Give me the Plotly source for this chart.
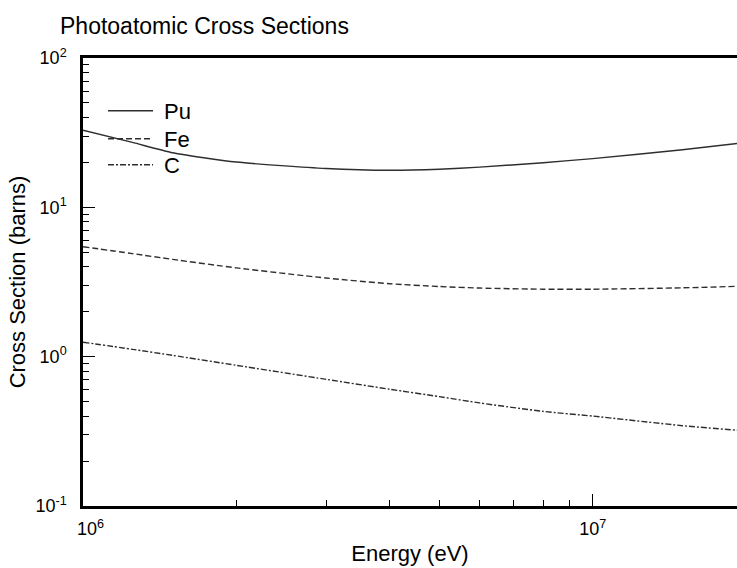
import plotly.graph_objects as go

energy = [1.0e6, 1.25e6, 1.5e6, 2.0e6, 3.0e6, 4.0e6, 5.0e6, 6.0e6, 8.0e6, 1.0e7, 1.5e7, 2.0e7]
pu = [32.8, 27.2, 23.2, 20.1, 18.2, 17.7, 18.0, 18.6, 19.9, 21.2, 24.3, 27.2]
fe = [5.45, 4.90, 4.48, 3.93, 3.36, 3.08, 2.95, 2.88, 2.83, 2.83, 2.89, 2.97]
c = [1.25, 1.12, 1.02, 0.875, 0.705, 0.605, 0.54, 0.49, 0.43, 0.400, 0.345, 0.318]

series_names = ["Pu", "Fe", "C"]
x_tick_vals = [1e6, 1e7]
x_tick_text = ["\u00a0\u00a0\u00a010<sup>6</sup>", "10<sup>7</sup>"]
y_tick_vals = [0.1, 1, 10, 100]
y_tick_text = ["10<sup>-1</sup>", "10<sup>0</sup>", "10<sup>1</sup>", "10<sup>2</sup>"]
x_minor = [2e6, 3e6, 4e6, 5e6, 6e6, 7e6, 8e6, 9e6, 2e7]
y_minor = [0.2, 0.3, 0.4, 0.5, 0.6, 0.7, 0.8, 0.9,
           2, 3, 4, 5, 6, 7, 8, 9,
           20, 30, 40, 50, 60, 70, 80, 90]

FONT = "Liberation Sans, Arial, Helvetica, sans-serif"
LINE_COLOR = "#2e2e2e"

fig = go.Figure()
styles = [("solid", pu), ("6px,3px", fe), ("6px,2px,2px,2px", c)]
legend_ids = ["legend", "legend2", "legend3"]
for name, (dash, vals), lid in zip(series_names, styles, legend_ids):
    fig.add_trace(go.Scatter(
        x=energy, y=vals, mode="lines", name="\u00a0" + name, legend=lid,
        line=dict(color=LINE_COLOR, width=1.4, dash=dash, shape="spline", smoothing=0.6),
    ))

legend_common = dict(xanchor="left", yanchor="middle", bgcolor="rgba(0,0,0,0)",
                     font=dict(size=22, family=FONT), itemwidth=45)
fig.update_layout(
    width=737, height=568,
    margin=dict(l=83, r=0, t=58, b=62),
    paper_bgcolor="white", plot_bgcolor="white",
    font=dict(family=FONT, color="black", size=21),
    title=dict(text="Photoatomic Cross Sections", x=60 / 737, xanchor="left",
               y=1 - 25.5 / 568, yanchor="middle", font=dict(size=23, family=FONT)),
    showlegend=True,
    legend=dict(x=0.0306, y=(506 - 111) / 448, **legend_common),
    legend2=dict(x=0.0306, y=(506 - 139) / 448, **legend_common),
    legend3=dict(x=0.0306, y=(506 - 165) / 448, **legend_common),
)

fig.update_xaxes(
    type="log", range=[6, 7.2831],
    showgrid=False, zeroline=False,
    showline=True, linecolor="black", linewidth=2.5, mirror=True,
    ticks="inside", ticklen=12, tickwidth=1.3, tickcolor="black",
    tickvals=x_tick_vals, ticktext=x_tick_text,
    tickfont=dict(size=18, family=FONT),
    ticklabelstandoff=5,
    minor=dict(ticks="inside", ticklen=6, tickwidth=1.3, tickcolor="black",
               tickvals=x_minor, showgrid=False),
    title=dict(text="Energy (eV)", font=dict(size=22, family=FONT), standoff=8),
)
fig.update_yaxes(
    type="log", range=[-1, 2],
    showgrid=False, zeroline=False,
    showline=True, linecolor="black", linewidth=2.5, mirror=False,
    ticks="inside", ticklen=12, tickwidth=1.3, tickcolor="black",
    tickvals=y_tick_vals, ticktext=y_tick_text,
    tickfont=dict(size=18, family=FONT),
    ticklabelstandoff=10,
    minor=dict(ticks="inside", ticklen=6, tickwidth=1.3, tickcolor="black",
               tickvals=y_minor, showgrid=False),
    title=dict(text="Cross Section (barns)", font=dict(size=22, family=FONT), standoff=4),
)

fig.write_html("out.html", config={"displayModeBar": False},
               post_script="document.body.style.margin='0px';document.body.style.overflow='hidden';")
